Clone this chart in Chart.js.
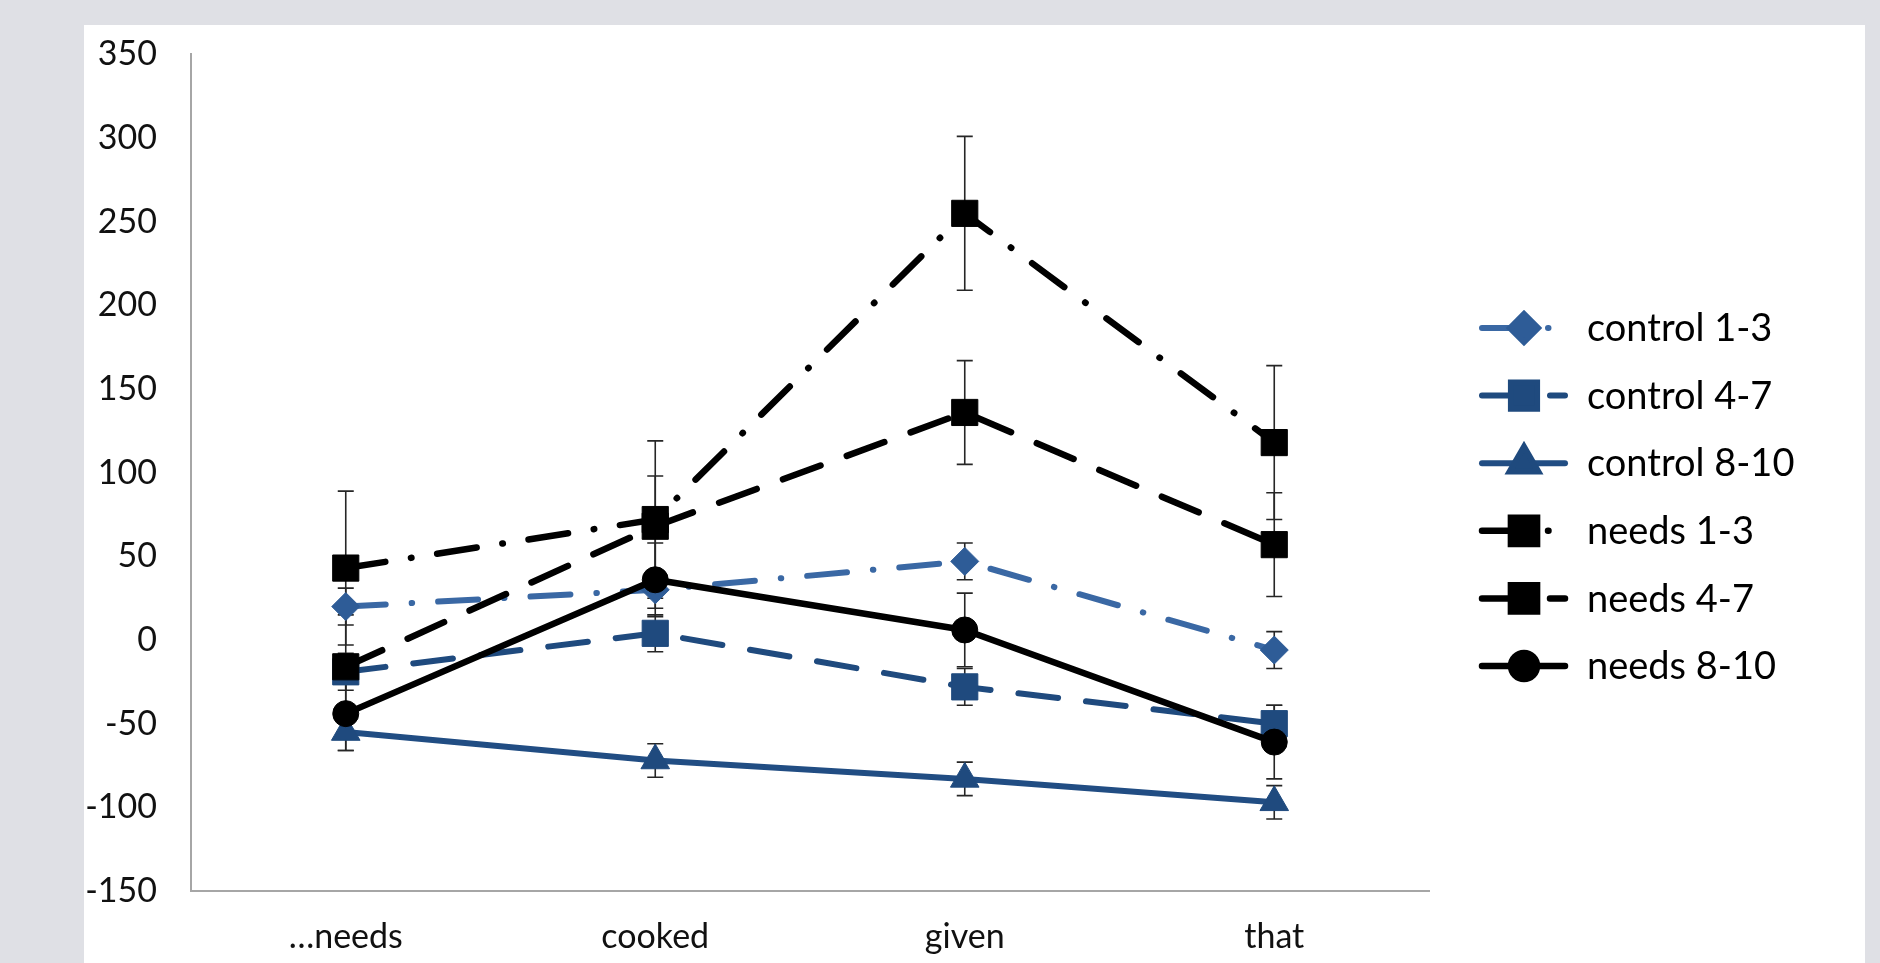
<!DOCTYPE html>
<html>
<head>
<meta charset="utf-8">
<script src="https://cdn.jsdelivr.net/npm/chart.js@4/dist/chart.umd.min.js"></script>
<style>
  html, body { margin: 0; padding: 0; background: #dfe0e5; }
  canvas { display: block; }
</style>
</head>
<body>
<canvas id="c" width="1880" height="963"></canvas>
<script>
// Word positions along the sentence
const categories = ['…needs', 'cooked', 'given', 'that'];
const yTicks = [-150, -100, -50, 0, 50, 100, 150, 200, 250, 300, 350];

// Mean values per group
const control13 = [20, 30, 47, -6];
const control47 = [-19, 4, -28, -50];
const control810 = [-55, -72, -83, -97];
const needs13 = [43, 72, 255, 118];
const needs47 = [-16, 68, 136, 57];
const needs810 = [-44, 36, 6, -61];

// Error bar half-lengths per group
const control13Err = [11, 11, 11, 11];
const control47Err = [11, 11, 11, 11];
const control810Err = [11, 10, 10, 10];
const needs13Err = [46, 47, 46, 46];
const needs47Err = [31, 30, 31, 31];
const needs810Err = [22, 22, 22, 22];

const seriesNames = ['control 1-3', 'control 4-7', 'control 8-10', 'needs 1-3', 'needs 4-7', 'needs 8-10'];

const LONG_DASH = [40, 28];
const LONG_DASH_DOT = [40, 26, 0.5, 26];

function series(label, data, errors, color, fill, dash, style, radius, width, order) {
  return {
    label, data, errors,
    borderColor: color,
    borderWidth: width,
    borderDash: dash,
    borderCapStyle: 'round',
    borderJoinStyle: 'round',
    pointStyle: style,
    pointRadius: radius,
    pointHoverRadius: radius,
    pointBackgroundColor: fill,
    pointBorderColor: fill,
    pointBorderWidth: 1,
    tension: 0,
    fill: false,
    order
  };
}

const datasets = [
  series(seriesNames[0], control13, control13Err, '#3a68a4', '#2e5c97', LONG_DASH_DOT, 'rectRot', 14, 6, 5),
  series(seriesNames[1], control47, control47Err, '#1f4a7e', '#1f4a7e', LONG_DASH, 'rect', 18.5, 6, 4),
  series(seriesNames[2], control810, control810Err, '#214d83', '#1f4a7e', [], 'triangle', 16.5, 6, 3),
  series(seriesNames[3], needs13, needs13Err, '#000000', '#000000', LONG_DASH_DOT, 'rect', 18.5, 6.5, 2),
  series(seriesNames[4], needs47, needs47Err, '#000000', '#000000', LONG_DASH, 'rect', 18.5, 6.5, 1),
  series(seriesNames[5], needs810, needs810Err, '#000000', '#000000', [], 'circle', 13, 6.5, 0)
];

// Grey frame with the white chart panel
const panel = {
  id: 'panel',
  beforeDraw(chart) {
    const ctx = chart.ctx;
    ctx.save();
    ctx.fillStyle = '#dfe0e5';
    ctx.fillRect(0, 0, chart.width, chart.height);
    ctx.fillStyle = '#ffffff';
    ctx.fillRect(84, 25, 1781, chart.height - 25);
    ctx.restore();
  }
};

// Vertical error bars with caps
const errorBars = {
  id: 'errorBars',
  beforeDatasetsDraw(chart) {
    const { ctx, scales: { x, y } } = chart;
    ctx.save();
    ctx.strokeStyle = '#262626';
    ctx.lineWidth = 1.6;
    ctx.setLineDash([]);
    chart.data.datasets.forEach(ds => {
      ds.errors.forEach((e, j) => {
        const px = x.getPixelForValue(j);
        const top = y.getPixelForValue(ds.data[j] + e);
        const bot = y.getPixelForValue(ds.data[j] - e);
        ctx.beginPath();
        ctx.moveTo(px, top); ctx.lineTo(px, bot);
        ctx.moveTo(px - 8, top); ctx.lineTo(px + 8, top);
        ctx.moveTo(px - 8, bot); ctx.lineTo(px + 8, bot);
        ctx.stroke();
      });
    });
    ctx.restore();
  }
};

// Legend with line sample, marker and label
const sideLegend = {
  id: 'sideLegend',
  afterDraw(chart) {
    const ctx = chart.ctx;
    const top = 328, gap = 67.6;
    chart.data.datasets.forEach((ds, i) => {
      const yy = top + i * gap;
      ctx.save();
      ctx.strokeStyle = ds.borderColor;
      ctx.lineWidth = ds.borderWidth;
      ctx.lineCap = 'round';
      ctx.setLineDash(ds.borderDash);
      ctx.beginPath();
      ctx.moveTo(1482, yy);
      ctx.lineTo(1565, yy);
      ctx.stroke();
      ctx.setLineDash([]);
      ctx.fillStyle = ds.pointBackgroundColor;
      ctx.strokeStyle = ds.pointBorderColor;
      Chart.helpers.drawPoint(ctx, { pointStyle: ds.pointStyle, radius: ds.pointRadius, borderWidth: 1, rotation: 0 }, 1524, yy);
      ctx.fillStyle = '#000000';
      ctx.font = '38px Lato';
      ctx.textAlign = 'left';
      ctx.textBaseline = 'middle';
      ctx.fillText(ds.label, 1587, yy + 1);
      ctx.restore();
    });
  }
};

new Chart(document.getElementById('c'), {
  type: 'line',
  data: { labels: categories, datasets },
  options: {
    responsive: false,
    devicePixelRatio: 1,
    animation: false,
    events: [],
    layout: { padding: { left: 84, top: 52, right: 451, bottom: 0 } },
    plugins: { legend: { display: false }, tooltip: { enabled: false } },
    scales: {
      x: {
        type: 'category',
        offset: true,
        grid: { display: false, drawTicks: false },
        border: { display: true, color: '#a6a6a6', width: 2 },
        ticks: { color: '#111111', font: { family: 'Lato', size: 34 }, padding: 26, maxRotation: 0 },
        afterFit(scale) { scale.height = 72; }
      },
      y: {
        min: -150,
        max: 350,
        grid: { display: false, drawTicks: false },
        border: { display: true, color: '#a6a6a6', width: 2 },
        ticks: { color: '#111111', font: { family: 'Lato', size: 34 }, padding: 34 },
        afterBuildTicks(scale) { scale.ticks = yTicks.map(v => ({ value: v })); },
        afterFit(scale) { scale.width = 107; }
      }
    }
  },
  plugins: [panel, errorBars, sideLegend]
});
</script>
</body>
</html>
